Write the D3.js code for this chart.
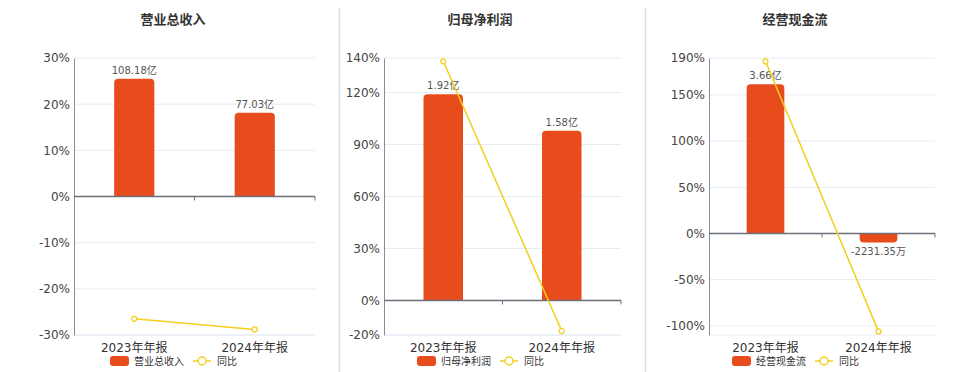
<!DOCTYPE html>
<html>
<head>
<meta charset="utf-8">
<script src="https://cdn.jsdelivr.net/npm/d3@7/dist/d3.min.js"></script>
<style>
  body { margin: 0; background: #fff; }
  svg { display: block; font-family: "DejaVu Sans", "Noto Sans CJK SC", sans-serif; }
</style>
</head>
<body>
<div id="chart"></div>
<script>
var categories = ['2023年年报', '2024年年报'];
var titles = ['营业总收入', '归母净利润', '经营现金流'];

// bar values (亿) and their labels
var revenue = [108.18, 77.03];
var profit = [1.92, 1.58];
var cashflow = [3.66, -0.223135];
var revenueLabels = ['108.18亿', '77.03亿'];
var profitLabels = ['1.92亿', '1.58亿'];
var cashflowLabels = ['3.66亿', '-2231.35万'];

// 同比 (%)
var revenueYoy = [-26.5, -28.8];
var profitYoy = [138.1, -17.7];
var cashflowYoy = [186.4, -106.1];

// left axis tick labels (%)
var revenueTicks = [30, 20, 10, 0, -10, -20, -30];
var profitTicks = [140, 120, 90, 60, 30, 0, -20];
var cashflowTicks = [190, 150, 100, 50, 0, -50, -100];
var revenueDomain = [-30, 30];
var profitDomain = [-20, 140];
var cashflowDomain = [-110, 190];

var width = 960, height = 372;
var barColor = '#e84c1d', lineColor = '#f2cf1d';
var top_ = 58, bottom = 335;

var panels = [
  { title: titles[0], bars: revenue, labels: revenueLabels, yoy: revenueYoy, ticks: revenueTicks, domain: revenueDomain, left: 74, right: 315, cx: 173 },
  { title: titles[1], bars: profit, labels: profitLabels, yoy: profitYoy, ticks: profitTicks, domain: profitDomain, left: 384, right: 621, cx: 480 },
  { title: titles[2], bars: cashflow, labels: cashflowLabels, yoy: cashflowYoy, ticks: cashflowTicks, domain: cashflowDomain, left: 709, right: 935, cx: 795 }
];

var svg = d3.select('#chart').append('svg')
  .attr('width', width)
  .attr('height', height);

// panel dividers
[339.5, 645.5].forEach(function(x){
  svg.append('line')
    .attr('x1', x).attr('x2', x).attr('y1', 8).attr('y2', height)
    .attr('stroke', '#dcdcdc').attr('stroke-width', 1.5);
});

// rounded bar path: rounded on the end away from zero
function barPath(x, w, y0, y1, r){
  var h = Math.abs(y1 - y0);
  r = Math.min(r, h, w / 2);
  if (y1 <= y0) {
    return 'M' + x + ',' + y0 + 'V' + (y1 + r) + 'Q' + x + ',' + y1 + ' ' + (x + r) + ',' + y1 +
      'H' + (x + w - r) + 'Q' + (x + w) + ',' + y1 + ' ' + (x + w) + ',' + (y1 + r) + 'V' + y0 + 'Z';
  }
  return 'M' + x + ',' + y0 + 'V' + (y1 - r) + 'Q' + x + ',' + y1 + ' ' + (x + r) + ',' + y1 +
    'H' + (x + w - r) + 'Q' + (x + w) + ',' + y1 + ' ' + (x + w) + ',' + (y1 - r) + 'V' + y0 + 'Z';
}

panels.forEach(function(p){
  var g = svg.append('g');

  var x = d3.scaleBand().domain(categories).range([p.left, p.right]);
  var y = d3.scaleLinear().domain(p.domain).range([bottom, top_]);
  var y0 = y(0);
  var barMax = d3.max(p.bars, function(d){ return Math.abs(d); });
  var yBar = d3.scaleLinear().domain([0, barMax / 0.85]).range([y0, top_]);
  var bw = x.bandwidth() / 3;

  // title
  g.append('text')
    .attr('x', p.cx).attr('y', 24)
    .attr('text-anchor', 'middle')
    .attr('font-size', '13px').attr('font-weight', 'bold')
    .attr('fill', '#333')
    .text(p.title);

  // grid lines
  g.selectAll('.grid')
    .data(p.ticks.concat([p.domain[0]]))
    .enter().append('line')
    .attr('x1', p.left).attr('x2', p.right)
    .attr('y1', function(d){ return y(d); })
    .attr('y2', function(d){ return y(d); })
    .attr('stroke', '#e6ebf4').attr('stroke-width', 1);

  // left axis
  var yAxis = g.append('g')
    .attr('transform', 'translate(' + p.left + ',0)')
    .call(d3.axisLeft(y).tickValues(p.ticks).tickSize(0).tickPadding(4)
      .tickFormat(function(d){ return d + '%'; }));
  yAxis.select('.domain').attr('stroke', '#8a8d96').attr('stroke-width', 1);
  yAxis.selectAll('text').attr('font-size', '12px').attr('fill', '#444')
    .attr('font-family', '"DejaVu Sans", "Noto Sans CJK SC", sans-serif');

  // bars
  g.selectAll('.bar')
    .data(p.bars)
    .enter().append('path')
    .attr('d', function(d, i){
      var yy = d >= 0 ? yBar(d) : y0 + (y0 - yBar(-d));
      return barPath(x(categories[i]) + bw, bw, y0, yy, 4);
    })
    .attr('fill', barColor);

  // bar labels
  g.selectAll('.blabel')
    .data(p.bars)
    .enter().append('text')
    .attr('x', function(d, i){ return x(categories[i]) + x.bandwidth() / 2; })
    .attr('y', function(d){ return d >= 0 ? yBar(d) - 5 : y0 + (y0 - yBar(-d)) + 12; })
    .attr('text-anchor', 'middle')
    .attr('font-size', '10px').attr('fill', '#555')
    .text(function(d, i){ return p.labels[i]; });

  // zero axis with ticks between categories
  g.append('line')
    .attr('x1', p.left).attr('x2', p.right)
    .attr('y1', y0).attr('y2', y0)
    .attr('stroke', '#6e7079').attr('stroke-width', 1.5);
  g.selectAll('.xtick')
    .data(categories.slice(1).concat(['end']))
    .enter().append('line')
    .attr('x1', function(d){ return d === 'end' ? p.right : x(d); })
    .attr('x2', function(d){ return d === 'end' ? p.right : x(d); })
    .attr('y1', y0).attr('y2', y0 + 4)
    .attr('stroke', '#6e7079').attr('stroke-width', 1);

  // category labels
  g.selectAll('.xlabel')
    .data(categories)
    .enter().append('text')
    .attr('x', function(d){ return x(d) + x.bandwidth() / 2; })
    .attr('y', 352)
    .attr('text-anchor', 'middle')
    .attr('font-size', '12px').attr('fill', '#333')
    .text(function(d){ return d; });

  // yoy line
  var line = d3.line()
    .x(function(d, i){ return x(categories[i]) + x.bandwidth() / 2; })
    .y(function(d){ return y(d); });
  g.append('path')
    .datum(p.yoy)
    .attr('d', line)
    .attr('fill', 'none')
    .attr('stroke', lineColor).attr('stroke-width', 1.5);
  g.selectAll('.pt')
    .data(p.yoy)
    .enter().append('circle')
    .attr('cx', function(d, i){ return x(categories[i]) + x.bandwidth() / 2; })
    .attr('cy', function(d){ return y(d); })
    .attr('r', 2.5)
    .attr('fill', '#fff').attr('stroke', lineColor).attr('stroke-width', 1.2);

  // legend
  var lx = p.cx - 63, ly = 361;
  g.append('rect')
    .attr('x', lx).attr('y', ly - 5).attr('width', 19).attr('height', 10)
    .attr('rx', 3).attr('fill', barColor);
  g.append('text')
    .attr('x', lx + 24).attr('y', ly + 3.5)
    .attr('font-size', '10px').attr('fill', '#333')
    .text(p.title);
  g.append('line')
    .attr('x1', lx + 83).attr('x2', lx + 101).attr('y1', ly).attr('y2', ly)
    .attr('stroke', lineColor).attr('stroke-width', 1.5);
  g.append('circle')
    .attr('cx', lx + 92).attr('cy', ly).attr('r', 4)
    .attr('fill', '#fff').attr('stroke', lineColor).attr('stroke-width', 1.5);
  g.append('text')
    .attr('x', lx + 107).attr('y', ly + 3.5)
    .attr('font-size', '10px').attr('fill', '#333')
    .text('同比');
});
</script>
</body>
</html>
